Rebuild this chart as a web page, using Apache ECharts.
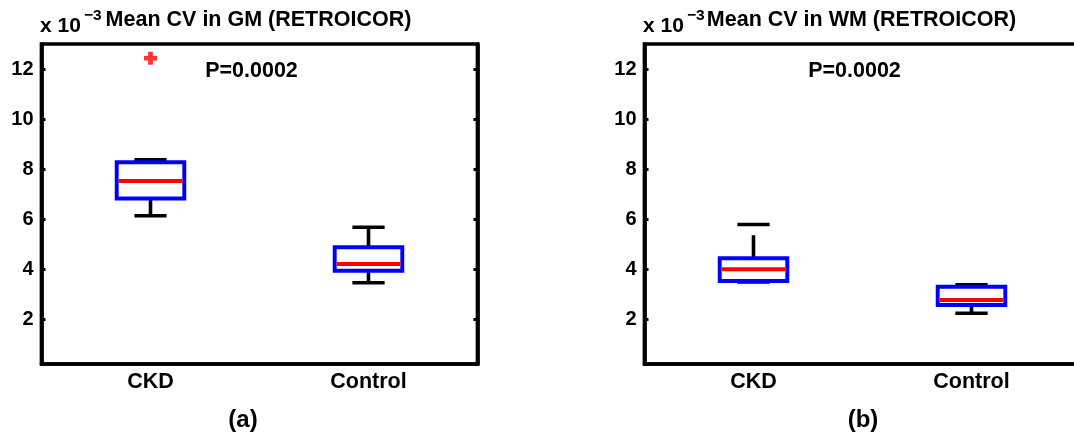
<!DOCTYPE html>
<html><head><meta charset="utf-8">
<script src="https://cdn.jsdelivr.net/npm/echarts@6/dist/echarts.min.js"></script>
<style>html,body{margin:0;padding:0;background:#fff}#c{width:1074px;height:440px}</style>
</head><body><div id="c"></div>
<script>
const categories = ['CKD', 'Control'];
const yTicks = [2, 4, 6, 8, 10, 12];
// Panel (a): GM
const gmLower = [6.13, 3.45];
const gmQ1 = [6.82, 3.93];
const gmMedian = [7.52, 4.20];
const gmQ3 = [8.27, 4.87];
const gmUpper = [8.37, 5.67];
const gmOutliers = [[1, 12.43]];
// Panel (b): WM
const wmLower = [3.48, 2.23];
const wmQ1 = [3.52, 2.56];
const wmMedian = [3.99, 2.76];
const wmQ3 = [4.43, 3.29];
const wmUpper = [5.78, 3.37];
const wmOutliers = [];
const pText = ['P=0.0002', 'P=0.0002'];
const titles = ['Mean CV in GM (RETROICOR)', 'Mean CV in WM (RETROICOR)'];
const panelLabels = ['(a)', '(b)'];

const FONT = '"Liberation Sans", Arial, Helvetica, sans-serif';
const chart = echarts.init(document.getElementById('c'), null, {renderer: 'canvas'});

function boxData(lo, q1, med, q3, up) {
  return categories.map((c, i) => [i + 1, lo[i], q1[i], med[i], q3[i], up[i]]);
}

function renderBox(params, api) {
  const x = api.value(0);
  const lo = api.coord([x, api.value(1)]);
  const q1 = api.coord([x, api.value(2)]);
  const md = api.coord([x, api.value(3)]);
  const q3 = api.coord([x, api.value(4)]);
  const up = api.coord([x, api.value(5)]);
  const bw = api.size([0.31, 0])[0];
  const cw = api.size([0.148, 0])[0];
  const cx = lo[0];
  const black = {stroke: '#000', lineWidth: 3.6, lineDash: [23, 12]};
  return {
    type: 'group',
    children: [
      {type: 'line', shape: {x1: cx, y1: q3[1], x2: cx, y2: up[1]}, style: black},
      {type: 'line', shape: {x1: cx, y1: q1[1], x2: cx, y2: lo[1]}, style: black},
      {type: 'line', shape: {x1: cx - cw / 2, y1: up[1], x2: cx + cw / 2, y2: up[1]}, style: {stroke: '#000', lineWidth: 3.5}},
      {type: 'line', shape: {x1: cx - cw / 2, y1: lo[1], x2: cx + cw / 2, y2: lo[1]}, style: {stroke: '#000', lineWidth: 3.5}},
      {type: 'rect', shape: {x: cx - bw / 2, y: q3[1], width: bw, height: q1[1] - q3[1]}, style: {stroke: '#0000ff', lineWidth: 3.9, fill: 'rgba(0,0,0,0)'}},
      {type: 'line', shape: {x1: cx - bw / 2 + 2, y1: md[1], x2: cx + bw / 2 - 2, y2: md[1]}, style: {stroke: '#ff0000', lineWidth: 4}}
    ]
  };
}

const grids = [
  {left: 41.5, top: 44, width: 436, height: 320},
  {left: 644.5, top: 44, width: 436, height: 320}
];

function xAxisFor(i) {
  return {
    type: 'value', gridIndex: i, min: 0.5, max: 2.5,
    axisLine: {show: true, lineStyle: {color: '#000', width: 3.7}},
    axisTick: {show: false},
    splitLine: {show: false},
    axisLabel: {
      customValues: [1, 2], margin: 7,
      formatter: v => categories[Math.round(v) - 1] || '',
      color: '#000', fontWeight: 'bold', fontSize: 21.5, fontFamily: FONT
    }
  };
}
function yAxisFor(i, pos) {
  const left = pos === 'left';
  return {
    type: 'value', gridIndex: i, min: 0.2, max: 13, position: pos,
    axisLine: {show: true, lineStyle: {color: '#000', width: 3.7}},
    axisTick: {show: true, inside: true, length: 4, customValues: yTicks, lineStyle: {color: '#000', width: 3}},
    splitLine: {show: false},
    axisLabel: {
      show: left, customValues: yTicks, margin: 8,
      color: '#000', fontWeight: 'bold', fontSize: 20, fontFamily: FONT
    }
  };
}

const plusPath = 'path://M3.2,0H6.8V3.2H10V6.8H6.8V10H3.2V6.8H0V3.2H3.2Z';

function texts(i, gx) {
  const cx = gx + 218;
  const t = {fontFamily: FONT, fontWeight: 'bold', fill: '#000'};
  return [
    {type: 'text', x: gx - 1.5, y: 26, style: Object.assign({text: 'x 10', fontSize: 21, verticalAlign: 'middle', align: 'left'}, t)},
    {type: 'text', x: gx + 42.5, y: 16, style: Object.assign({text: '\u22123', fontSize: 15.5, verticalAlign: 'middle', align: 'left'}, t)},
    {type: 'text', x: cx - 1, y: 20.5, style: Object.assign({text: titles[i], fontSize: 21.5, verticalAlign: 'middle', align: 'center'}, t)},
    {type: 'text', x: cx - 8, y: 71, style: Object.assign({text: pText[i], fontSize: 21.5, verticalAlign: 'middle', align: 'center'}, t)},
    {type: 'text', x: i === 0 ? 243 : 863, y: 420, style: Object.assign({text: panelLabels[i], fontSize: 24, verticalAlign: 'middle', align: 'center'}, t)}
  ];
}

chart.setOption({
  animation: false,
  backgroundColor: '#fff',
  grid: grids.map(g => Object.assign({show: true, borderColor: '#000', borderWidth: 3.7, backgroundColor: 'transparent', outerBoundsMode: 'none', containLabel: false}, g)),
  xAxis: [xAxisFor(0), xAxisFor(1)],
  yAxis: [yAxisFor(0, 'left'), yAxisFor(0, 'right'), yAxisFor(1, 'left'), yAxisFor(1, 'right')],
  series: [
    {type: 'custom', xAxisIndex: 0, yAxisIndex: 0, renderItem: renderBox, data: boxData(gmLower, gmQ1, gmMedian, gmQ3, gmUpper), encode: {x: 0, y: [1, 2, 3, 4, 5]}},
    {type: 'scatter', xAxisIndex: 0, yAxisIndex: 0, symbol: plusPath, symbolSize: 13, itemStyle: {color: '#ff0000'}, data: gmOutliers},
    {type: 'custom', xAxisIndex: 1, yAxisIndex: 2, renderItem: renderBox, data: boxData(wmLower, wmQ1, wmMedian, wmQ3, wmUpper), encode: {x: 0, y: [1, 2, 3, 4, 5]}},
    {type: 'scatter', xAxisIndex: 1, yAxisIndex: 2, symbol: plusPath, symbolSize: 13, itemStyle: {color: '#ff0000'}, data: wmOutliers}
  ],
  graphic: texts(0, 41.5).concat(texts(1, 644.5))
});
</script>
</body></html>
